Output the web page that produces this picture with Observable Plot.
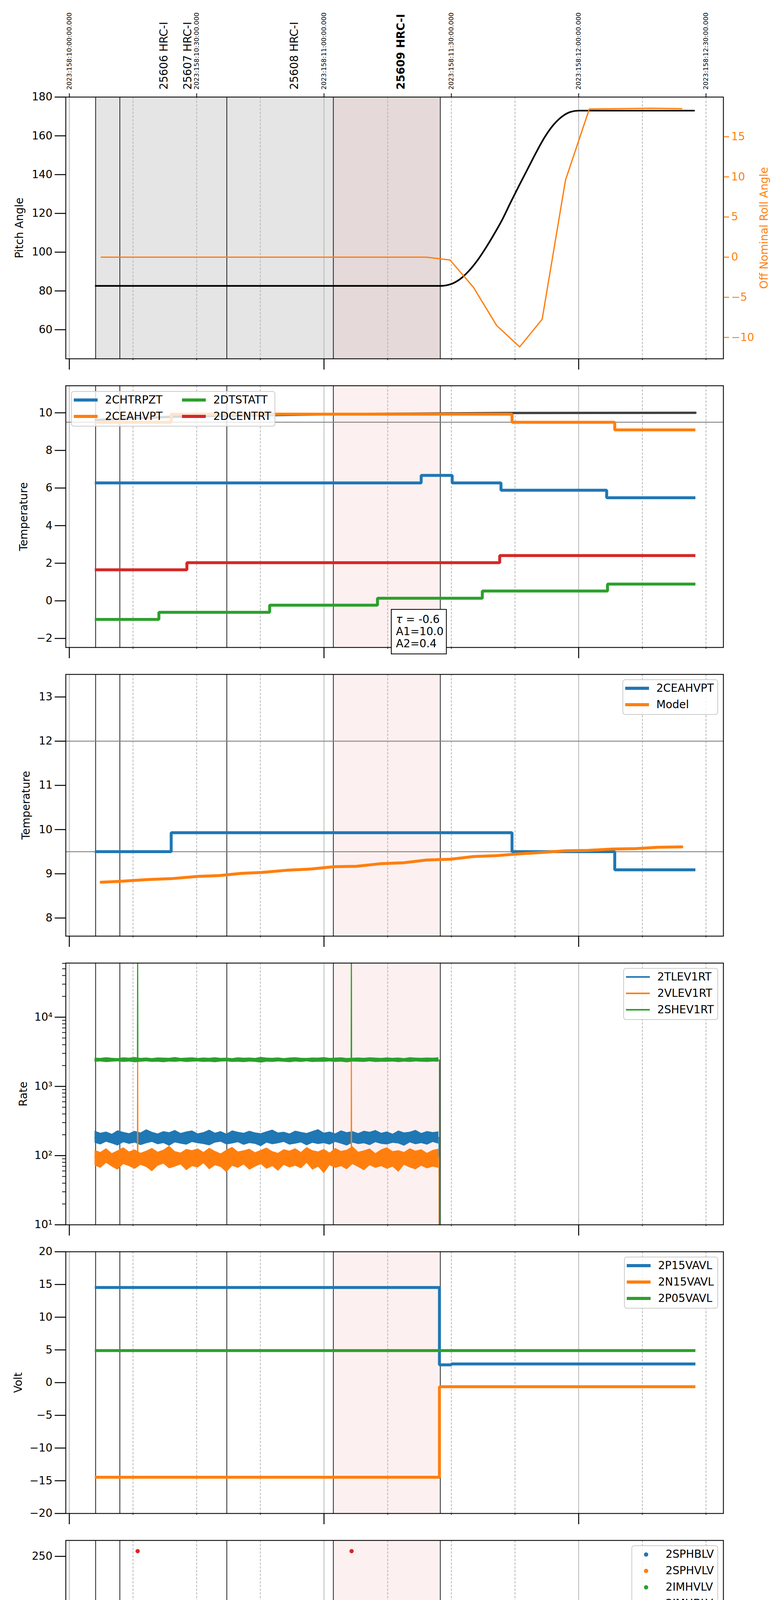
<!DOCTYPE html>
<html>
<head>
<meta charset="utf-8">
<script src="https://cdn.jsdelivr.net/npm/d3@7"></script>
<script src="https://cdn.jsdelivr.net/npm/@observablehq/plot@0.6"></script>
<style>
html,body{margin:0;padding:0;background:#fff;}
#wrap{position:relative;width:2000px;height:6200px;overflow:hidden;font-family:"DejaVu Sans",sans-serif;background:#fff;}
.legend{position:absolute;display:grid;grid-auto-flow:column;column-gap:50px;padding:0 9px 3px 5px;background:rgba(255,255,255,0.8);border:2.2px solid #cccccc;border-radius:7px;box-sizing:border-box;}
.item{display:flex;align-items:center;height:42px;font-size:27.8px;line-height:1;white-space:nowrap;color:#000;}
.sw{width:61px;margin-right:19px;display:flex;align-items:center;justify-content:center;height:42px;}
.anno{position:absolute;background:#fff;border:2.2px solid #000;padding:9px 6px 10px 11px;font-size:27.8px;line-height:31px;white-space:nowrap;}
</style>
</head>
<body>
<div id="wrap"></div>
<script>
// ---------- time helpers (minutes after 2023-06-07 06:00) ----------
const T0 = Date.UTC(2023, 5, 7, 6, 0, 0);
const toDate = m => new Date(T0 + m * 60000);
const X_DOMAIN = [toDate(-0.83), toDate(154.1)];

// ---------- axis ticks ----------
const hourTickMin = [0, 60, 120];
const minorTickMin = [15, 30, 45, 75, 90, 105, 135, 150];
const halfHourTickMin = [0, 30, 60, 90, 120, 150];
const topTickLabels = ["2023:158:10:00:00.000", "2023:158:10:30:00.000", "2023:158:11:00:00.000",
  "2023:158:11:30:00.000", "2023:158:12:00:00.000", "2023:158:12:30:00.000"];

// ---------- observations / events ----------
const eventMin = [6.2, 11.9, 37.1, 62.2, 87.4];
const allObsSpan = [6.2, 62.2];
const currentObsSpan = [62.2, 87.4];
const obsLabelMin = [22.3, 27.9, 53.0];
const obsLabels = ["25606 HRC-I", "25607 HRC-I", "25608 HRC-I"];
const currentObsLabelMin = [78.2];
const currentObsLabels = ["25609 HRC-I"];

// ---------- panel 1: pitch / roll ----------
const pitchT = [6.2, 87.4, 90.0, 92.0, 94.0, 96.0, 98.0, 100.0, 102.0, 104.0, 106.0, 108.0, 110.0, 112.0, 114.0, 116.0, 118.0, 120.0, 147.2];
const pitchV = [82.6, 82.6, 83.6, 86.0, 90.0, 95.3, 101.8, 109.0, 116.8, 125.8, 134.5, 143.0, 151.5, 159.3, 165.5, 169.8, 172.3, 173.0, 173.0];
const rollT = [7.5, 84.1, 89.7, 95.2, 100.7, 106.1, 111.4, 116.9, 122.5, 130.0, 137.0, 144.3];
const rollV = [0, 0, -0.36, -3.75, -8.53, -11.18, -7.73, 9.6, 18.45, 18.5, 18.55, 18.5];

// ---------- panel 2: temperatures ----------
const chtrpztT = [6.0, 82.9, 90.2, 101.7, 126.6, 147.5];
const chtrpztV = [6.27, 6.67, 6.27, 5.88, 5.48, 5.48];
const ceahvptT = [6.0, 24.0, 104.3, 128.5, 147.5];
const ceahvptV = [9.5, 9.93, 9.5, 9.09, 9.09];
const dtstattT = [6.0, 21.1, 47.2, 72.6, 97.3, 126.8, 147.5];
const dtstattV = [-0.99, -0.61, -0.23, 0.14, 0.52, 0.89, 0.89];
const dcentrtT = [6.0, 27.7, 101.4, 147.5];
const dcentrtV = [1.65, 2.03, 2.41, 2.41];
const oldModelT = [6.2, 15, 24, 37, 62, 90, 104, 147.5];
const oldModelV = [9.62, 9.71, 9.79, 9.85, 9.92, 9.97, 9.99, 10.0];
const p2RefLines = [9.5];
const annoLines = ["τ = -0.6", "A1=10.0", "A2=0.4"];

// ---------- panel 3: 2CEAHVPT vs model ----------
const modelT = [7.5, 11.9, 18.3, 24.0, 30.1, 35.3, 40.6, 45.3, 51.2, 57.1, 62.3, 67.6, 73.5, 78.8, 84.1, 89.9, 95.2, 100.5, 105.8, 111.1, 116.9, 122.2, 128.1, 133.4, 138.7, 144.3];
const modelV = [8.81, 8.83, 8.87, 8.89, 8.94, 8.96, 9.01, 9.03, 9.08, 9.11, 9.16, 9.17, 9.23, 9.25, 9.31, 9.33, 9.39, 9.41, 9.45, 9.48, 9.52, 9.53, 9.56, 9.57, 9.60, 9.61];
const p3RefLines = [12, 9.5];

// ---------- panel 4: rates (log) ----------
const rateT = [6.0,7.35,8.7,10.05,11.4,12.75,14.1,15.45,16.8,18.15,19.5,20.85,22.2,23.55,24.9,26.25,27.6,28.95,30.3,31.65,33.0,34.35,35.7,37.05,38.4,39.75,41.1,42.45,43.8,45.15,46.5,47.85,49.2,50.55,51.9,53.25,54.6,55.95,57.3,58.65,60.0,61.35,62.7,64.05,65.4,66.75,68.1,69.45,70.8,72.15,73.5,74.85,76.2,77.55,78.9,80.25,81.6,82.95,84.3,85.65,87.0];
const tlevHi = [228,212,221,205,231,218,209,226,214,238,219,207,224,216,233,211,222,229,208,217,235,213,224,206,230,219,212,227,215,209,223,236,214,220,207,228,218,211,225,239,213,221,208,230,216,224,210,227,219,233,212,222,206,229,215,220,234,211,225,217,223];
const tlevLo = [152,144,158,149,139,155,147,153,141,150,157,145,151,138,154,148,143,156,150,146,140,153,158,144,149,155,142,151,147,136,153,145,150,157,143,148,154,140,152,146,151,143,157,148,139,153,146,150,141,155,147,144,152,149,138,154,145,151,143,156,148];
const vlevHi = [120,112,127,108,118,131,114,122,109,117,128,113,121,138,115,110,124,119,126,112,129,116,107,121,133,114,118,125,111,120,130,115,109,123,117,127,112,132,119,114,124,110,128,116,121,136,113,118,126,108,122,131,115,119,112,127,117,123,109,120,125];
const vlevLo = [72,66,78,69,62,75,70,64,73,68,59,71,76,65,69,74,61,70,67,77,63,72,68,57,71,66,74,62,69,75,64,70,60,73,67,71,65,78,62,69,55,72,66,70,63,75,68,61,72,66,70,64,69,58,73,67,63,71,65,69,66];
const shevHi = [2590,2560,2620,2575,2545,2610,2580,2635,2565,2595,2550,2605,2585,2570,2640,2560,2590,2615,2555,2600,2575,2625,2565,2590,2545,2610,2580,2595,2560,2650,2585,2570,2605,2550,2595,2620,2575,2560,2600,2585,2630,2565,2590,2610,2555,2580,2600,2570,2615,2590,2560,2605,2575,2595,2550,2620,2585,2570,2600,2580,2610];
const shevLo = [2250,2280,2230,2265,2290,2240,2270,2215,2255,2285,2245,2260,2225,2275,2250,2290,2235,2265,2280,2240,2255,2220,2270,2285,2245,2260,2230,2275,2250,2195,2265,2240,2280,2255,2225,2270,2245,2290,2235,2260,2250,2280,2240,2265,2215,2270,2255,2245,2285,2235,2260,2250,2275,2230,2265,2245,2280,2255,2240,2270,2260];
const tlevT = [6.0, 87.1, 87.15];
const tlevV = [182, 182, 5];
const vlevT = [6.0, 16.05, 16.1, 16.15, 66.4, 66.45, 66.5, 87.1, 87.15];
const vlevV = [95, 95, 2400, 95, 95, 2400, 95, 95, 5];
const shevT = [6.0, 16.05, 16.1, 16.15, 66.4, 66.45, 66.5, 87.2, 87.25];
const shevV = [2400, 2400, 100000, 2400, 2400, 100000, 2400, 2400, 5];
const logTicks = [10, 100, 1000, 10000];
const logTickLabels = ["10¹", "10²", "10³", "10⁴"];
const logMinorTicks = [20,30,40,50,60,70,80,90,200,300,400,500,600,700,800,900,2000,3000,4000,5000,6000,7000,8000,9000,20000,30000,40000,50000,60000];

// ---------- panel 5: voltages ----------
const p15T = [6.0, 87.2, 90.0, 147.5];
const p15V = [14.54, 2.72, 2.85, 2.85];
const n15T = [6.0, 87.2, 147.5];
const n15V = [-14.46, -0.62, -0.62];
const p05T = [6.0, 147.5];
const p05V = [4.89, 4.89];

// ---------- panel 6: HV monitor ----------
const imhblvT = [6.0, 87.4];
const imhblvV = [86.2, 86.2];
const imhblvOutT = [16.1, 66.5];
const imhblvOutV = [255.3, 255.3];
const imhvlvT = [6.0,8.0,10.0,12.0,14.0,16.0,18.0,20.0,22.0,24.0,26.0,28.0,30.0,32.0,34.0,36.0,38.0,40.0,42.0,44.0,46.0,48.0,50.0,52.0,54.0,56.0,58.0,60.0,62.0,64.0,66.0,68.0,70.0,72.0,74.0,76.0,78.0,80.0,82.0,84.0,86.0,87.4];
const imhvlvV = [79.0,80.2,78.6,79.8,78.9,80.4,79.1,78.5,80.1,79.3,78.7,80.3,79.0,79.6,78.6,80.2,79.4,78.8,80.0,79.2,78.6,80.3,79.5,78.9,80.1,79.0,78.7,80.2,79.3,78.8,80.4,79.1,78.6,80.0,79.4,78.9,80.3,79.2,78.7,80.1,79.0,79.3];

// ---------- panel 7: detector temps ----------
const spinatmT = [6.0, 87.1];
const spinatmV = [4.6, 4.6];
const sphvatmT = [6.0, 6.4, 6.8, 25.4, 28.3, 28.6, 73.3, 87.0];
const sphvatmV = [17.53, 17.9, 17.53, 17.82, 17.45, 17.82, 18.11, 18.11];
const iminatmT = [6.0, 75.6, 77.5, 77.8, 86.9, 87.0];
const iminatmV = [2.82, 3.25, 2.75, 3.25, 19.6, 19.6];
const imhvatmT = [6.0, 16.1, 16.3, 24.6, 24.8, 30.1, 37.0, 37.2, 66.4, 66.6, 72.9, 87.4, 87.5, 87.6];
const imhvatmV = [18.99, -5, 18.99, 19.35, 18.99, 19.29, 18.9, 19.29, -5, 19.29, 19.58, -5, 25, 25];

// ---------- panel 8: FEA temps ----------
const fhtrmztT = [6.0, 16.6, 31.7, 47.3, 51.7, 52.0, 63.2, 80.3, 113.3, 134.8, 147.5];
const fhtrmztV = [-0.99, -0.62, -0.24, 0.14, -0.27, 0.14, 0.51, 0.89, 0.51, 0.14, 0.14];
const fradpytT = [6.5, 7.2, 23.2, 40.6, 58.5, 76.9, 102.1, 120.6, 147.5];
const fradpytV = [-4.04, -3.65, -3.26, -2.88, -2.51, -2.13, -1.75, -2.13, -2.13];
const fepratmT = [6.0, 12.2, 29.2, 47.2, 67.3, 86.9, 87.1];
const fepratmV = [1.93, 2.37, 2.81, 3.25, 3.69, 4.15, 4.15];
const fe00atmT = [6.0, 15.6, 16.1, 16.3, 27.4, 30.4, 30.7, 39.1, 39.6, 39.8, 51.0, 52.6, 52.8, 64.6, 66.4, 66.6, 70.5, 70.7, 78.8, 87.4, 87.5, 87.6];
const fe00atmV = [2.03, 2.35, -10, 2.35, 2.64, 1.71, 2.64, 2.94, 3.3, 2.94, 3.24, 3.85, 3.24, 3.53, -10, 3.53, 3.2, 3.53, 3.84, -10, 10, 10];

// ---------- legends / labels ----------
const COLORS = ["#1f77b4", "#ff7f0e", "#2ca02c", "#d62728"];
const legend2 = ["2CHTRPZT", "2CEAHVPT", "2DTSTATT", "2DCENTRT"];
const legend3 = ["2CEAHVPT", "Model"];
const legend4 = ["2TLEV1RT", "2VLEV1RT", "2SHEV1RT"];
const legend5 = ["2P15VAVL", "2N15VAVL", "2P05VAVL"];
const legend6 = ["2SPHBLV", "2SPHVLV", "2IMHVLV", "2IMHBLV"];
const legend7 = ["2SPINATM", "2SPHVATM", "2IMINATM", "2IMHVATM"];
const legend8 = ["2FHTRMZT", "2FRADPYT", "2FEPRATM", "2FE00ATM"];
const yLabels = ["Pitch Angle", "Temperature", "Temperature", "Rate", "Volt", "HV Monitor", "Detector Temp", "FEA Temp"];
const xLabel = "2023-06-07 (158)";
const rollLabel = "Off Nominal Roll Angle";

// ================= drawing =================
const wrap = document.getElementById("wrap");
const FONT = "DejaVu Sans";
const [BLUE, ORANGE, GREEN, RED] = COLORS;
const FRAME_TOP = 248, STEP = 739, FRAME_H = 670, ML = 168, MR = 148;
const hourDates = hourTickMin.map(toDate);
const minorDates = minorTickMin.map(toDate);
const halfDates = halfHourTickMin.map(toDate);
const fmtHour = d => String(d.getUTCHours()).padStart(2, "0") + "h";
const fmtMin = d => String(d.getUTCMinutes());
const fmtInt = d3.format("d");
const series = (ts, vs) => ts.map((t, i) => ({x: toDate(t), y: vs[i]}));
const yLabelBaselines = [58, 69, 75, 68, 55, 61, 50, 71];

function shading(first) {
  const cur = {x1: toDate(currentObsSpan[0]), x2: toDate(currentObsSpan[1])};
  if (first) {
    return [
      Plot.rect([{x1: toDate(allObsSpan[0]), x2: toDate(allObsSpan[1])}], {x1: "x1", x2: "x2", fill: "#e5e5e5"}),
      Plot.rect([cur], {x1: "x1", x2: "x2", fill: "#e5d9d9"})
    ];
  }
  return [Plot.rect([cur], {x1: "x1", x2: "x2", fill: "#fdf0f0"})];
}
function background(i) {
  return [
    ...shading(i === 0),
    Plot.gridX({ticks: minorDates, stroke: "#b0b0b0", strokeOpacity: 1, strokeWidth: 1.8, strokeDasharray: "6,3.5"}),
    Plot.gridX({ticks: hourDates, stroke: "#b0b0b0", strokeOpacity: 1, strokeWidth: 1.8}),
    Plot.ruleX(eventMin.map(toDate), {stroke: "black", strokeWidth: 1.7})
  ];
}
function foreground(i, yTicks, yFmt = fmtInt) {
  const last = i === 7;
  return [
    Plot.frame({stroke: "black", strokeWidth: 2.2}),
    Plot.axisX({anchor: "bottom", ticks: hourDates, tickSize: 28, tickPadding: 11, strokeWidth: 2.5,
      tickFormat: last ? fmtHour : () => "", label: null}),
    Plot.axisX({anchor: "bottom", ticks: minorDates, tickSize: 4, tickPadding: 5, strokeWidth: 1.5, fontSize: 16.7,
      tickFormat: last ? fmtMin : () => "", label: null}),
    Plot.axisY({anchor: "left", ticks: yTicks, tickSize: 28, tickPadding: 6, strokeWidth: 2.5,
      tickFormat: yFmt, label: null}),
    Plot.text([yLabels[i]], {frameAnchor: "left", dx: yLabelBaselines[i] - ML, rotate: -90,
      lineAnchor: "bottom", textAnchor: "middle", fontSize: 27.8})
  ];
}
function makePanel(i, y, marks, x = {}) {
  const mt = i === 0 ? FRAME_TOP : 34;
  const mb = i === 7 ? 109 : 35;
  const svg = Plot.plot({
    width: 2000, height: mt + FRAME_H + mb,
    marginLeft: ML, marginRight: MR, marginTop: mt, marginBottom: mb,
    x: {type: "utc", domain: X_DOMAIN, ...x},
    y,
    style: {fontFamily: FONT, fontSize: "27.8px", background: "transparent", color: "black", overflow: "visible"},
    marks
  });
  svg.style.position = "absolute";
  svg.style.left = "0px";
  svg.style.top = (i === 0 ? 0 : FRAME_TOP + STEP * i - 34) + "px";
  wrap.appendChild(svg);
  return svg;
}
const thick = 7.5;
const stepLine = (ts, vs, color, w = thick) =>
  Plot.line(series(ts, vs), {x: "x", y: "y", stroke: color, strokeWidth: w, curve: "step-after", clip: true, strokeLinejoin: "miter", strokeLinecap: "butt"});

// ---- Panel 1 ----
makePanel(0, {domain: [45, 180]}, [
  ...background(0),
  Plot.line(series(pitchT, pitchV), {x: "x", y: "y", stroke: "black", strokeWidth: 4.2, curve: "monotone-x", clip: true}),
  ...foreground(0, [60, 80, 100, 120, 140, 160, 180]),
  Plot.axisX({anchor: "top", ticks: halfDates, tickSize: 10, strokeWidth: 2, tickFormat: () => "", label: null}),
  Plot.text(halfHourTickMin.map((m, k) => ({x: toDate(m), label: topTickLabels[k]})),
    {x: "x", text: "label", frameAnchor: "top", dy: -19, rotate: -90, textAnchor: "start", lineAnchor: "middle", fontSize: 16.7}),
  Plot.text(obsLabelMin.map((m, k) => ({x: toDate(m), label: obsLabels[k]})),
    {x: "x", text: "label", frameAnchor: "top", dy: -19, rotate: -90, textAnchor: "start", lineAnchor: "middle", fontSize: 27.8}),
  Plot.text(currentObsLabelMin.map((m, k) => ({x: toDate(m), label: currentObsLabels[k]})),
    {x: "x", text: "label", frameAnchor: "top", dy: -19, rotate: -90, textAnchor: "start", lineAnchor: "middle", fontSize: 27.8, fontWeight: "bold"})
]);
// Panel 1 twin axis overlay (roll)
makePanel(0, {domain: [-12.66, 19.94]}, [
  Plot.line(series(rollT, rollV), {x: "x", y: "y", stroke: ORANGE, strokeWidth: 3.3, clip: true}),
  Plot.axisY({anchor: "right", ticks: [-10, -5, 0, 5, 10, 15], tickSize: 14, tickPadding: 6, strokeWidth: 2.5,
    stroke: ORANGE, fill: ORANGE, tickFormat: fmtInt, label: null}),
  Plot.text([rollLabel], {frameAnchor: "right", dx: 113, rotate: -90, lineAnchor: "bottom", textAnchor: "middle", fontSize: 27.8, fill: ORANGE})
], {axis: null});

// ---- Panel 2 ----
makePanel(1, {domain: [-2.48, 11.44]}, [
  ...background(1),
  Plot.ruleY(p2RefLines, {stroke: "#808080", strokeWidth: 2.2}),
  Plot.line(series(oldModelT, oldModelV), {x: "x", y: "y", stroke: "#404040", strokeWidth: 6, clip: true}),
  stepLine(chtrpztT, chtrpztV, BLUE),
  stepLine(ceahvptT, ceahvptV, ORANGE),
  stepLine(dtstattT, dtstattV, GREEN),
  stepLine(dcentrtT, dcentrtV, RED),
  ...foreground(1, [-2, 0, 2, 4, 6, 8, 10])
]);

// ---- Panel 3 ----
makePanel(2, {domain: [7.59, 13.51]}, [
  ...background(2),
  Plot.ruleY(p3RefLines, {stroke: "#808080", strokeWidth: 2.2}),
  stepLine(ceahvptT, ceahvptV, BLUE),
  Plot.line(series(modelT, modelV), {x: "x", y: "y", stroke: ORANGE, strokeWidth: thick, clip: true}),
  ...foreground(2, [8, 9, 10, 11, 12, 13])
]);

// ---- Panel 4 ----
const band = (lo, hi) => rateT.map((t, k) => ({x: toDate(t), y1: lo[k], y2: hi[k]}));
makePanel(3, {type: "log", domain: [10, 60500]}, [
  ...background(3),
  Plot.areaY(band(tlevLo, tlevHi), {x: "x", y1: "y1", y2: "y2", fill: BLUE, clip: true}),
  Plot.line(series(tlevT, tlevV), {x: "x", y: "y", stroke: BLUE, strokeWidth: 2.8, clip: true}),
  Plot.areaY(band(vlevLo, vlevHi), {x: "x", y1: "y1", y2: "y2", fill: ORANGE, clip: true}),
  Plot.line(series(vlevT, vlevV), {x: "x", y: "y", stroke: ORANGE, strokeWidth: 2.8, clip: true}),
  Plot.areaY(band(shevLo, shevHi), {x: "x", y1: "y1", y2: "y2", fill: GREEN, clip: true}),
  Plot.line(series(shevT, shevV), {x: "x", y: "y", stroke: GREEN, strokeWidth: 2.8, clip: true}),
  ...foreground(3, logTicks, d => logTickLabels[logTicks.indexOf(d)]),
  Plot.axisY({anchor: "left", ticks: logMinorTicks, tickSize: 9, strokeWidth: 1.8, tickFormat: () => "", label: null})
]);

// ---- Panel 5 ----
makePanel(4, {domain: [-20, 20]}, [
  ...background(4),
  stepLine(p15T, p15V, BLUE),
  stepLine(n15T, n15V, ORANGE),
  stepLine(p05T, p05V, GREEN),
  ...foreground(4, [-20, -15, -10, -5, 0, 5, 10, 15, 20])
]);

// ---- Panel 6 ----
makePanel(5, {domain: [0, 266.2]}, [
  ...background(5),
  Plot.line(series(imhvlvT, imhvlvV), {x: "x", y: "y", stroke: GREEN, strokeWidth: 11.5, strokeLinecap: "round", strokeLinejoin: "round", clip: true}),
  Plot.line(series(imhblvT, imhblvV), {x: "x", y: "y", stroke: RED, strokeWidth: 11.5, strokeLinecap: "round", clip: true}),
  Plot.dot(series(imhblvOutT, imhblvOutV), {x: "x", y: "y", r: 5.5, fill: RED, stroke: null, clip: true}),
  ...foreground(5, [0, 50, 100, 150, 200, 250])
]);

// ---- Panel 7 ----
makePanel(6, {domain: [1.30, 20.77]}, [
  ...background(6),
  stepLine(spinatmT, spinatmV, BLUE),
  stepLine(sphvatmT, sphvatmV, ORANGE),
  stepLine(iminatmT, iminatmV, GREEN),
  stepLine(imhvatmT, imhvatmV, RED),
  ...foreground(6, [2.5, 5, 7.5, 10, 12.5, 15, 17.5, 20], d3.format(".1f"))
]);

// ---- Panel 8 ----
makePanel(7, {domain: [-4.76, 5.19]}, [
  ...background(7),
  stepLine(fhtrmztT, fhtrmztV, BLUE),
  stepLine(fradpytT, fradpytV, ORANGE),
  stepLine(fepratmT, fepratmV, GREEN),
  stepLine(fe00atmT, fe00atmV, RED),
  ...foreground(7, [-4, -2, 0, 2, 4]),
  Plot.text([xLabel], {frameAnchor: "bottom", dy: 88, lineAnchor: "middle", textAnchor: "middle", fontSize: 32})
]);

// ---------- HTML legends ----------
function addLegend({names, left, right, top, kind = "line", lw = thick, rows}) {
  const box = document.createElement("div");
  box.className = "legend";
  box.style.top = top + "px";
  if (left != null) box.style.left = left + "px"; else box.style.right = (2000 - right) + "px";
  box.style.gridTemplateRows = `repeat(${rows || names.length}, 42px)`;
  names.forEach((name, k) => {
    const item = document.createElement("div");
    item.className = "item";
    const sw = document.createElement("span");
    sw.className = "sw";
    const mark = document.createElement("span");
    mark.style.cssText = kind === "dot"
      ? `display:block;width:11px;height:11px;border-radius:50%;background:${COLORS[k]}`
      : `display:block;width:61px;height:${lw}px;background:${COLORS[k]}`;
    sw.appendChild(mark);
    const txt = document.createElement("span");
    txt.textContent = name;
    item.appendChild(sw);
    item.appendChild(txt);
    box.appendChild(item);
  });
  wrap.appendChild(box);
}
const fTop = i => FRAME_TOP + STEP * i;
addLegend({names: legend2, left: ML + 14, top: fTop(1) + 14, rows: 2});
addLegend({names: legend3, right: 1839, top: fTop(2) + 13});
addLegend({names: legend4, right: 1839, top: fTop(3) + 13, lw: 3.3});
addLegend({names: legend5, right: 1839, top: fTop(4) + 13});
addLegend({names: legend6, right: 1839, top: fTop(5) + 13, kind: "dot"});
addLegend({names: legend7, right: 1839, top: fTop(6) + 13});
addLegend({names: legend8, right: 1839, top: fTop(7) + 13});

// annotation box
const anno = document.createElement("div");
anno.className = "anno";
anno.style.left = "1001px";
anno.style.top = "1559px";
anno.innerHTML = annoLines.map((l, k) => k === 0 ? l.replace("τ", "<i>τ</i>") : l).join("<br>");
wrap.appendChild(anno);
</script>
</body>
</html>
